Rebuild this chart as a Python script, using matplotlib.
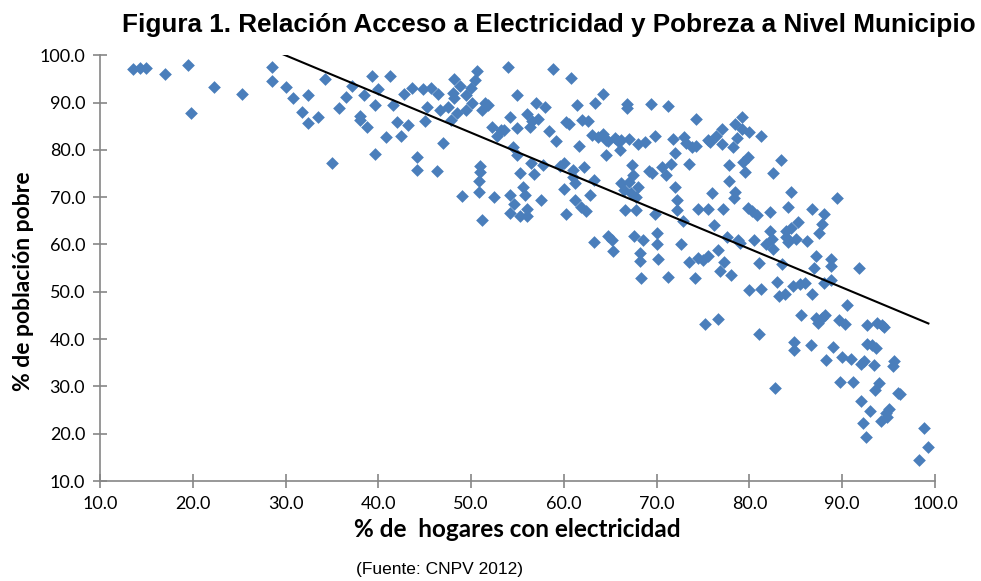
import numpy as np
import matplotlib
matplotlib.use("Agg")
from matplotlib import pyplot as plt

# % hogares con electricidad (x) y % poblacion pobre (y)
electricidad = [13.5, 14.3, 15.0, 17.0, 19.5, 19.8, 22.3, 25.3, 28.5, 28.5, 30.0, 30.8, 31.8, 32.4, 32.4,
                33.5, 34.2, 35.0, 35.8, 36.5, 37.2, 38.0, 38.0, 38.5, 38.8, 39.3, 39.6, 39.6, 40.0, 40.8,
                41.3, 41.6, 42.0, 42.4, 42.8, 43.2, 43.6, 44.2, 44.2, 44.8, 45.0, 45.2, 45.7, 46.3, 46.4,
                46.6, 47.0, 47.5, 47.8, 48.0, 48.2, 48.2, 48.5, 48.8, 49.0, 49.5, 49.5, 50.0, 50.1, 50.4,
                50.6, 50.8, 50.8, 51.0, 51.0, 51.2, 51.2, 51.5, 51.8, 52.2, 52.5, 52.8, 53.2, 53.6, 54.0,
                54.2, 54.2, 54.2, 54.5, 54.6, 55.0, 55.0, 55.0, 55.3, 55.3, 55.6, 55.8, 56.0, 56.0, 56.0,
                56.4, 56.5, 56.6, 56.8, 57.0, 57.2, 57.5, 57.8, 58.0, 58.4, 58.8, 59.2, 59.6, 60.0, 60.0,
                60.2, 60.2, 60.6, 60.8, 61.0, 61.0, 61.2, 61.2, 61.4, 61.6, 61.8, 62.0, 62.2, 62.4, 62.6,
                62.8, 63.0, 63.2, 63.2, 63.4, 63.7, 64.2, 64.2, 64.5, 64.5, 64.8, 64.8, 65.2, 65.3, 65.5,
                65.8, 66.0, 66.2, 66.2, 66.5, 66.6, 66.8, 66.8, 67.0, 67.0, 67.2, 67.4, 67.5, 67.6, 67.8,
                67.8, 68.0, 68.0, 68.2, 68.2, 68.3, 68.5, 68.8, 69.2, 69.4, 69.5, 69.8, 69.8, 70.0, 70.0,
                70.2, 70.6, 71.0, 71.2, 71.2, 71.5, 71.8, 72.0, 72.0, 72.2, 72.2, 72.6, 72.8, 73.0, 73.2,
                73.5, 73.5, 73.8, 74.1, 74.2, 74.2, 74.5, 74.5, 75.0, 75.2, 75.5, 75.5, 75.5, 75.8, 76.0,
                76.2, 76.4, 76.6, 76.6, 76.8, 77.0, 77.0, 77.2, 77.3, 77.6, 77.8, 77.8, 78.0, 78.2, 78.3,
                78.5, 78.5, 78.7, 78.8, 79.0, 79.2, 79.2, 79.3, 79.5, 79.8, 79.8, 80.0, 80.0, 80.3, 80.5,
                80.8, 81.0, 81.0, 81.2, 81.3, 81.8, 82.2, 82.2, 82.4, 82.5, 82.5, 82.8, 83.0, 83.2, 83.4,
                83.5, 83.8, 84.0, 84.0, 84.2, 84.2, 84.5, 84.5, 84.7, 84.8, 84.8, 85.0, 85.2, 85.5, 85.6,
                86.0, 86.2, 86.6, 86.8, 86.8, 87.0, 87.2, 87.2, 87.4, 87.5, 87.8, 87.8, 88.0, 88.0, 88.2,
                88.3, 88.8, 88.8, 88.8, 89.0, 89.5, 89.7, 89.8, 90.0, 90.3, 90.5, 91.0, 91.2, 91.8, 92.0,
                92.0, 92.2, 92.4, 92.6, 92.7, 92.7, 93.0, 93.2, 93.4, 93.5, 93.7, 93.8, 94.0, 94.2, 94.3,
                94.5, 94.7, 94.8, 95.0, 95.5, 95.6, 96.0, 96.2, 98.3, 98.8, 99.3]
pobreza = [97.0, 97.2, 97.3, 96.0, 98.0, 87.8, 93.3, 91.8, 97.6, 94.5, 93.2, 91.0, 88.1, 91.6, 85.7,
           87.0, 95.0, 77.3, 88.8, 91.2, 93.4, 87.1, 86.3, 91.6, 84.8, 95.5, 79.1, 89.5, 92.8, 82.8,
           95.5, 89.5, 85.9, 82.9, 91.8, 85.2, 93.0, 78.4, 75.8, 92.8, 86.0, 89.0, 93.1, 75.5, 91.8,
           88.5, 81.5, 89.0, 86.2, 92.0, 91.0, 95.0, 87.8, 93.4, 70.2, 88.5, 91.6, 93.0, 90.0, 94.8,
           96.6, 73.5, 71.0, 76.5, 75.3, 65.2, 88.5, 90.0, 89.5, 84.8, 70.0, 83.0, 84.2, 84.2, 97.6,
           87.0, 70.5, 66.7, 80.5, 68.5, 84.7, 91.6, 79.0, 75.0, 66.0, 72.2, 70.5, 67.5, 66.0, 87.5,
           84.8, 77.2, 86.0, 74.8, 89.8, 86.5, 69.5, 76.8, 89.0, 84.0, 97.0, 81.8, 76.6, 77.2, 71.8,
           85.8, 66.5, 85.4, 95.2, 75.8, 74.3, 73.0, 69.5, 89.5, 80.8, 68.0, 86.3, 76.4, 67.0, 86.0,
           70.5, 83.2, 73.7, 60.5, 89.9, 82.8, 91.8, 83.4, 82.0, 79.0, 81.8, 61.8, 61.0, 58.7, 82.4,
           81.8, 80.0, 82.0, 73.0, 71.5, 67.3, 89.7, 88.9, 82.2, 73.3, 70.9, 76.8, 74.6, 61.8, 70.0,
           67.2, 81.3, 72.2, 58.2, 56.5, 53.0, 61.0, 81.6, 75.6, 89.7, 75.0, 83.0, 66.5, 62.4, 60.0,
           57.0, 76.4, 74.6, 89.3, 53.2, 77.0, 82.2, 79.3, 72.1, 69.3, 67.2, 60.2, 65.0, 82.8, 81.5,
           77.0, 56.2, 80.6, 53.0, 86.5, 80.9, 57.1, 67.6, 56.8, 43.2, 82.0, 57.5, 67.5, 81.7, 70.8,
           64.2, 83.0, 44.2, 58.8, 54.3, 84.5, 81.3, 67.5, 56.2, 61.5, 73.5, 76.8, 53.5, 80.5, 69.9,
           85.5, 71.1, 82.5, 61.0, 60.3, 87.0, 84.4, 77.5, 75.4, 67.8, 78.5, 50.3, 83.7, 67.0, 60.9,
           66.2, 56.1, 41.0, 50.5, 83.0, 60.0, 66.8, 62.8, 61.2, 59.0, 75.0, 29.6, 52.0, 49.2, 77.8,
           55.8, 49.5, 61.5, 62.8, 60.5, 68.0, 71.0, 63.5, 51.3, 39.3, 37.6, 61.2, 64.8, 51.7, 45.2,
           51.9, 60.8, 38.8, 67.5, 49.6, 55.0, 57.5, 44.5, 43.5, 62.4, 44.5, 64.4, 66.5, 51.8, 45.2,
           35.6, 57.0, 55.5, 52.5, 38.3, 69.9, 44.0, 31.0, 36.3, 43.2, 47.3, 35.8, 30.9, 55.0, 34.8,
           27.0, 22.3, 35.4, 19.3, 43.0, 39.0, 24.9, 38.8, 34.5, 29.3, 38.2, 43.3, 30.7, 22.7, 43.0,
           42.5, 24.3, 23.5, 25.2, 34.3, 35.3, 28.6, 28.4, 14.4, 21.3, 17.2]

x = np.array(electricidad)
y = np.array(pobreza)

fig = plt.figure(figsize=(9.81, 5.81), dpi=100)
ax = fig.add_axes([0.102, 0.172, 0.851, 0.733])

ax.scatter(x, y, marker="D", s=42, color="#4A7EBB", linewidths=0, zorder=3)

# linea de tendencia lineal (minimos cuadrados)
m, b = np.polyfit(x, y, 1)
xt = np.array([x.min(), x.max()])
ax.plot(xt, m * xt + b, color="black", lw=1.5, zorder=4)

ax.set_xlim(10, 100)
ax.set_ylim(10, 100)
ax.set_xticks(np.arange(10, 101, 10))
ax.set_yticks(np.arange(10, 101, 10))
ax.xaxis.set_major_formatter(matplotlib.ticker.FormatStrFormatter("%.1f"))
ax.yaxis.set_major_formatter(matplotlib.ticker.FormatStrFormatter("%.1f"))
for s in ["top", "right"]:
    ax.spines[s].set_visible(False)
for s in ["left", "bottom"]:
    ax.spines[s].set_color("#868686")
    ax.spines[s].set_linewidth(1.2)
ax.tick_params(axis="x", direction="inout", length=9.5, width=1.2, color="#868686", pad=6)
ax.tick_params(axis="y", direction="inout", length=9.5, width=1.2, color="#868686", pad=6)
for lab in ax.get_xticklabels() + ax.get_yticklabels():
    lab.set_fontfamily("Lato")
    lab.set_fontsize(13)

ax.set_xlabel("% de  hogares con electricidad", fontfamily="Lato", fontweight="bold",
              fontsize=17.5, labelpad=4)
ax.set_ylabel("% de población pobre", fontfamily="Lato", fontweight="bold",
              fontsize=16.5, labelpad=7)
ax.yaxis.set_label_coords(-0.079, 0.47)

fig.text(0.559, 0.957, "Figura 1. Relación Acceso a Electricidad y Pobreza a Nivel Municipio",
         ha="center", va="center", fontfamily="Liberation Sans", fontweight="bold", fontsize=18.8)
fig.text(0.448, 0.019, "(Fuente: CNPV 2012)", ha="center", va="center",
         fontfamily="Liberation Sans", fontsize=12.5)

fig.savefig("out.png", dpi=100)
